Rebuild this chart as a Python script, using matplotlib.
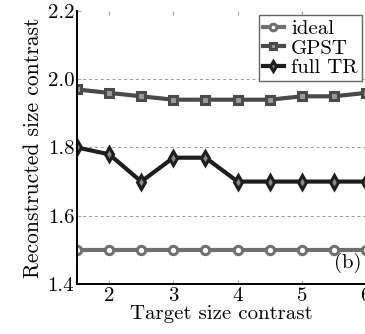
import numpy as np
import matplotlib
matplotlib.use("Agg")
import matplotlib.pyplot as plt

plt.rcParams['font.family'] = ['cmr10', 'DejaVu Serif']
plt.rcParams['axes.formatter.use_mathtext'] = True
plt.rcParams['mathtext.fontset'] = 'cm'

target = [1.5, 2, 2.5, 3, 3.5, 4, 4.5, 5, 5.5, 6]
ideal = [1.5, 1.5, 1.5, 1.5, 1.5, 1.5, 1.5, 1.5, 1.5, 1.5]
gpst = [1.97, 1.96, 1.95, 1.94, 1.94, 1.94, 1.94, 1.95, 1.95, 1.96]
full_tr = [1.80, 1.78, 1.70, 1.77, 1.77, 1.70, 1.70, 1.70, 1.70, 1.70]

fig = plt.figure(figsize=(3.65, 3.34), dpi=100)
ax = fig.add_axes([0.211, 0.150, 0.792, 0.817])

ax.plot(target, ideal, '-o', color='#707070', lw=3, ms=6,
        mfc='white', mec='#707070', mew=2.2, label='ideal')
ax.plot(target, gpst, '-s', color='#4a4a4a', lw=3, ms=6,
        mfc='#9a9a9a', mec='#4a4a4a', mew=2.2, label='GPST')
ax.plot(target, full_tr, '-d', color='#1e1e1e', lw=3, ms=7,
        mfc='#8a8a8a', mec='#1e1e1e', mew=2.2, label='full TR')

ax.set_xlim(1.5, 6.0)
ax.set_ylim(1.4, 2.2)
ax.set_xticks([2, 3, 4, 5, 6])
ax.set_yticks([1.4, 1.6, 1.8, 2.0, 2.2])
ax.set_yticklabels(['1.4', '1.6', '1.8', '2.0', '2.2'])
for y in [1.6, 1.8, 2.0]:
    ax.axhline(y, color='#999999', lw=0.7, ls=(0, (3, 3)), zorder=0)

ax.tick_params(axis='both', labelsize=15, direction='in', top=True, length=3,
               color='#aaaaaa', pad=2)
for s in ['left', 'bottom']:
    ax.spines[s].set_linewidth(1.4)
ax.spines['top'].set_visible(False)
ax.spines['right'].set_visible(False)

ax.set_xlabel('Target size contrast', fontsize=15, labelpad=0)
ax.set_ylabel('Reconstructed size contrast', fontsize=15.5, labelpad=3)

ax.legend(loc='upper right', fontsize=15, handlelength=1.0, handletextpad=0.35,
          borderaxespad=0.2, borderpad=0.2, labelspacing=0.05, markerscale=0.8,
          fancybox=False, edgecolor='#666666', framealpha=1)
ax.text(0.985, 0.04, '(b)', transform=ax.transAxes, ha='right', va='bottom', fontsize=15)

fig.savefig('out.png', dpi=100)
